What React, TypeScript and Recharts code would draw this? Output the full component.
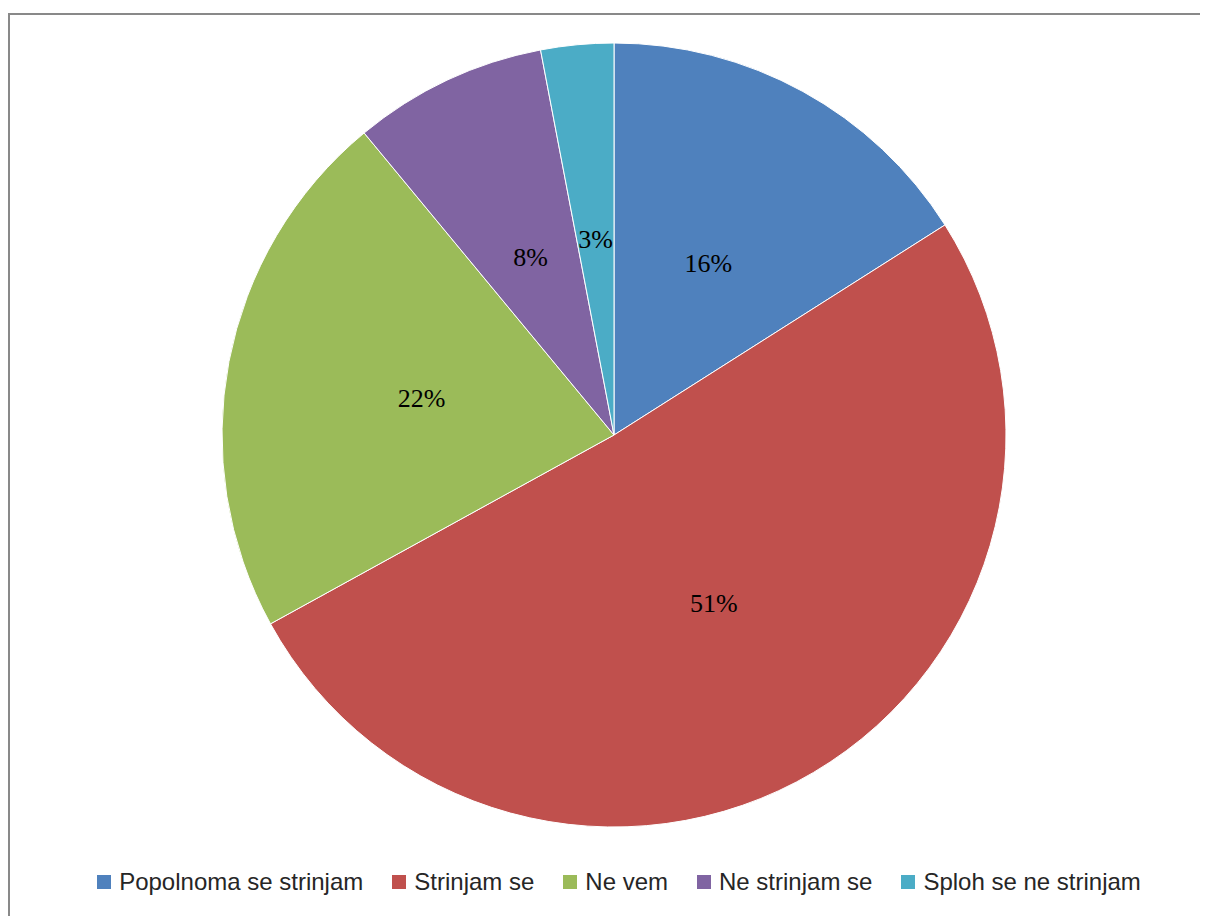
import React from 'react';
import { PieChart, Pie, Cell, Legend } from 'recharts';

const categories = ['Popolnoma se strinjam', 'Strinjam se', 'Ne vem', 'Ne strinjam se', 'Sploh se ne strinjam'];
const shares = [16, 51, 22, 8, 3];
const colors = ['#4F81BD', '#C0504D', '#9BBB59', '#8064A2', '#4BACC6'];

const data = categories.map((name, i) => ({ name, value: shares[i] }));

const RADIAN = Math.PI / 180;

const renderLabel = (props: any) => {
  const { cx, cy, midAngle, outerRadius, value } = props;
  const r = outerRadius * 0.5;
  const x = cx + r * Math.cos(-midAngle * RADIAN);
  const y = cy + r * Math.sin(-midAngle * RADIAN);
  return (
    <text
      x={x}
      y={y}
      fill="#000"
      textAnchor="middle"
      dominantBaseline="central"
      style={{ fontFamily: '"Liberation Serif", "Times New Roman", serif', fontSize: 26 }}
    >
      {value}%
    </text>
  );
};

const renderLegend = () => (
  <div
    style={{
      display: 'flex',
      justifyContent: 'center',
      alignItems: 'center',
      paddingLeft: 20,
      fontFamily: '"Liberation Sans", Arial, sans-serif',
      fontSize: 24,
      color: '#262626',
    }}
  >
    {categories.map((name, i) => (
      <div key={name} style={{ display: 'flex', alignItems: 'center', marginRight: i < categories.length - 1 ? 29 : 0 }}>
        <span style={{ width: 14, height: 14, background: colors[i], display: 'inline-block', marginRight: 8 }} />
        <span>{name}</span>
      </div>
    ))}
  </div>
);

export default function App() {
  return (
    <div
      style={{
        marginTop: 5,
        width: 1210,
        height: 920,
        borderTop: '2px solid #898989',
        borderLeft: '2px solid #898989',
        position: 'relative',
        background: '#fff',
      }}
    >
      <style>{'html, body { overflow: hidden; }'}</style>
      <PieChart width={1198} height={880} margin={{ top: 0, right: 0, bottom: 0, left: 0 }}>
        <Pie
          data={data}
          dataKey="value"
          nameKey="name"
          cx={604}
          cy={420}
          outerRadius={392}
          startAngle={90}
          endAngle={-270}
          stroke="#fff"
          strokeWidth={1}
          label={renderLabel}
          labelLine={false}
          isAnimationActive={false}
        >
          {data.map((d, i) => (
            <Cell key={d.name} fill={colors[i]} />
          ))}
        </Pie>
        <Legend content={renderLegend} wrapperStyle={{ top: 853, left: 0, width: 1198 }} />
      </PieChart>
    </div>
  );
}
